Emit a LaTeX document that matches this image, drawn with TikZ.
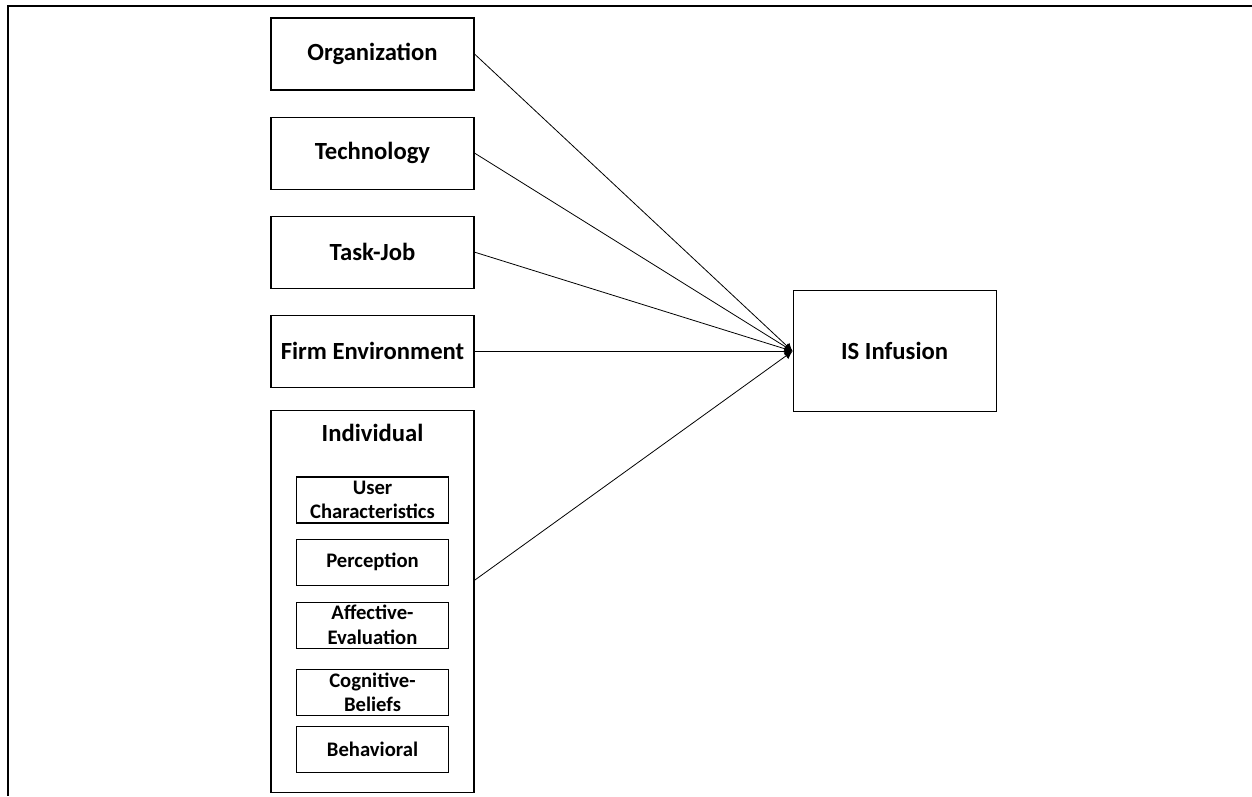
\documentclass[tikz,border=0pt]{standalone}
\usepackage{fontspec}
\setmainfont{Carlito}
\usepackage{tikz}
\usetikzlibrary{positioning}
\usetikzlibrary{arrows.meta}

\begin{document}
\begin{tikzpicture}[x=0.75pt,y=-0.75pt,
    factor/.style = {draw, line width=0.8pt, minimum width=152.25pt, minimum height=54pt, inner sep=0pt, font=\fontsize{18.5}{22}\selectfont\bfseries},
    sub/.style = {draw, line width=0.8pt, minimum width=114pt, minimum height=34.5pt, inner sep=0pt, align=center, font=\fontsize{15.5}{18.5}\selectfont\bfseries},
    link/.style = {-{Latex[length=6pt,width=6pt]}, line width=0.6pt},
    node distance=19.5pt]
        \useasboundingbox (0,0) rectangle (1252,796);
        % frame, open at right and bottom
        \draw[line width=2pt] (1252,6) -- (8,6) -- (8,796);
        % left column
        \node[factor] (org) at (372.5,54) {Organization};
        \node[factor, below=of org] (tech) {Technology};
        \node[factor, below=of tech] (task) {Task-Job};
        \node[factor, below=of task] (firm) {Firm Environment};
        \node[factor, below=16.5pt of firm, minimum height=286.5pt,
              label={[anchor=north, inner sep=0pt, yshift=-11pt, font=\fontsize{18.5}{22}\selectfont\bfseries]north:Individual}] (indiv) {};
        \node[sub] (user) at (372.5,500) {User\\Characteristics};
        \node[sub, below=11.25pt of user] (perc) {Perception};
        \node[sub, below=12pt of perc] (aff) {Affective-\\Evaluation};
        \node[sub, below=15pt of aff] (cog) {Cognitive-\\Beliefs};
        \node[sub, below=7.5pt of cog] (behav) {Behavioral};
        % outcome
        \node[factor, right=238.5pt of firm, minimum height=90.75pt] (infusion) {IS Infusion};
        \draw[link] (org.east) -- (infusion.west);
        \draw[link] (tech.east) -- (infusion.west);
        \draw[link] (task.east) -- (infusion.west);
        \draw[link] (firm.east) -- (infusion.west);
        \draw[link] ([yshift=15.75pt]indiv.east) -- (infusion.west);
\end{tikzpicture}
\end{document}
